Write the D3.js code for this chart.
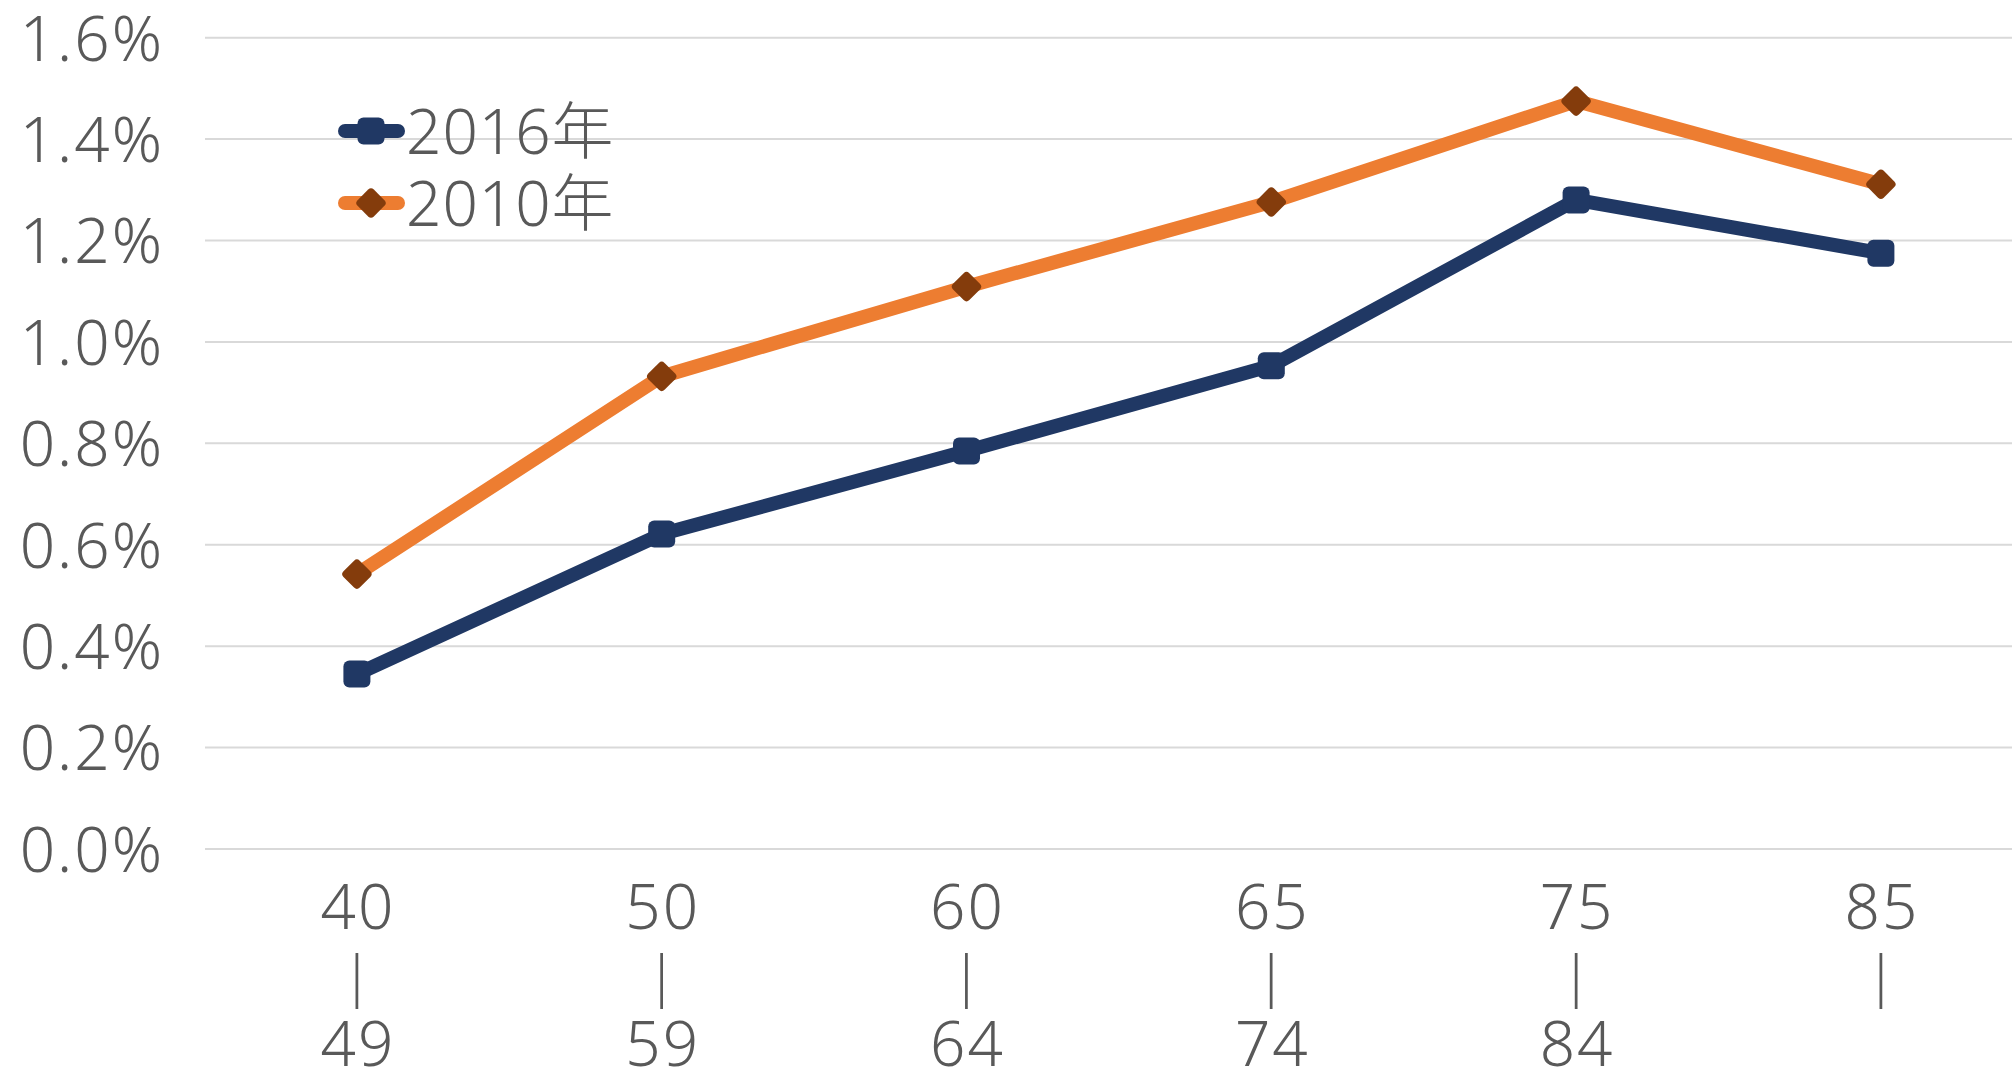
<!DOCTYPE html>
<html>
<head>
<meta charset="utf-8">
<script src="https://cdn.jsdelivr.net/npm/d3@7"></script>
<style>
  html, body { margin: 0; padding: 0; background: #ffffff; }
  svg { display: block; }
  text { font-family: "Noto Sans", "Noto Sans CJK JP", sans-serif; fill: #595959; }
</style>
</head>
<body>
<svg id="chart" width="2012" height="1071"></svg>
<script>
// Age groups (start, end of each band; the last one is open-ended)
const ageStart = ["40", "50", "60", "65", "75", "85"];
const ageEnd   = ["49", "59", "64", "74", "84", ""];

// Rate per age group, in percent
const series2016 = [0.345, 0.621, 0.785, 0.953, 1.280, 1.175];
const series2010 = [0.542, 0.932, 1.109, 1.276, 1.475, 1.311];

const seriesNames = ["2016年", "2010年"];
const yTicks = [0, 0.2, 0.4, 0.6, 0.8, 1.0, 1.2, 1.4, 1.6];

const W = 2012, H = 1071;
const svg = d3.select("#chart");

const x = d3.scaleBand()
  .domain(ageStart)
  .range([204.5, 2033.3])
  .padding(0);

const y = d3.scaleLinear()
  .domain([0, 1.6])
  .range([849, 37.7]);

const cx = d => x(d) + x.bandwidth() / 2;

// Horizontal gridlines
svg.append("g")
  .selectAll("line")
  .data(yTicks)
  .join("line")
  .attr("x1", 205)
  .attr("x2", W)
  .attr("y1", d => y(d))
  .attr("y2", d => y(d))
  .attr("stroke", "#d9d9d9")
  .attr("stroke-width", 2);

// Y axis labels
const yAxis = d3.axisLeft(y)
  .tickValues(yTicks)
  .tickFormat(d => d.toFixed(1) + "%")
  .tickSize(0)
  .tickPadding(0);

const gy = svg.append("g")
  .attr("transform", "translate(164,0)")
  .call(yAxis);
gy.select(".domain").remove();
gy.selectAll("text")
  .attr("font-size", 62)
  .attr("font-weight", 300)
  .attr("font-family", null)
  .attr("letter-spacing", 2)
  .attr("fill", "#595959")
  .attr("dy", "0.36em");

// X axis labels: start, vertical bar, end stacked in one text
const xl = svg.append("g").selectAll("text")
  .data(ageStart.map((s, i) => ({ s, e: ageEnd[i] })))
  .join("text")
  .attr("text-anchor", "middle")
  .attr("font-size", 62)
  .attr("font-weight", 300)
  .attr("letter-spacing", 2);
xl.append("tspan")
  .attr("x", d => cx(d.s) + 1)
  .attr("y", 929)
  .text(d => d.s);
xl.append("tspan")
  .attr("x", d => cx(d.s))
  .attr("y", 995)
  .attr("font-size", 56)
  .attr("letter-spacing", 0)
  .text("|");
xl.append("tspan")
  .attr("x", d => cx(d.s) + 1)
  .attr("y", 1066)
  .text(d => d.e);

// Lines
const line = d3.line()
  .x((d, i) => cx(ageStart[i]))
  .y(d => y(d));

const navy = "#203864", orange = "#ed7d31", brown = "#843c0c";

function squareMarker(g, px, py) {
  g.append("rect")
    .attr("x", px - 13.5).attr("y", py - 13.5)
    .attr("width", 27).attr("height", 27)
    .attr("rx", 6).attr("ry", 6)
    .attr("fill", navy);
}
function diamondMarker(g, px, py) {
  const s = 23;
  g.append("rect")
    .attr("x", -s / 2).attr("y", -s / 2)
    .attr("width", s).attr("height", s)
    .attr("rx", 4).attr("ry", 4)
    .attr("transform", `translate(${px},${py}) rotate(45)`)
    .attr("fill", brown);
}

const plot = svg.append("g");
plot.append("path")
  .datum(series2016)
  .attr("d", line)
  .attr("fill", "none")
  .attr("stroke", navy)
  .attr("stroke-width", 14)
  .attr("stroke-linejoin", "round");
plot.append("path")
  .datum(series2010)
  .attr("d", line)
  .attr("fill", "none")
  .attr("stroke", orange)
  .attr("stroke-width", 14)
  .attr("stroke-linejoin", "round");

const m16 = plot.append("g");
series2016.forEach((v, i) => squareMarker(m16, cx(ageStart[i]), y(v)));
const m10 = plot.append("g");
series2010.forEach((v, i) => diamondMarker(m10, cx(ageStart[i]), y(v)));

// Legend
const legend = svg.append("g");
const legendRows = [
  { name: seriesNames[0], color: navy, marker: squareMarker, ly: 131 },
  { name: seriesNames[1], color: orange, marker: diamondMarker, ly: 203 }
];
legendRows.forEach(r => {
  legend.append("line")
    .attr("x1", 345).attr("x2", 398)
    .attr("y1", r.ly).attr("y2", r.ly)
    .attr("stroke", r.color)
    .attr("stroke-width", 14)
    .attr("stroke-linecap", "round");
  r.marker(legend, 371, r.ly);
  legend.append("text")
    .attr("x", 406)
    .attr("y", r.ly + 23)
    .attr("font-size", 62)
    .attr("font-weight", 300)
    .attr("letter-spacing", 1)
    .text(r.name);
});
</script>
</body>
</html>
